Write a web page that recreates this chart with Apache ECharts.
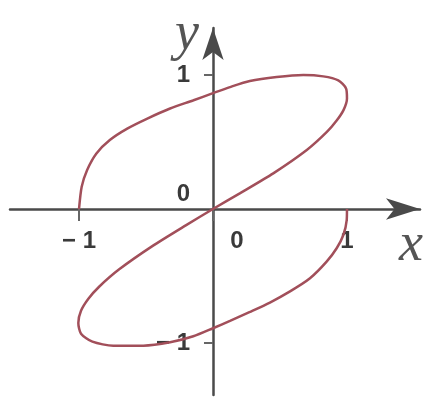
<!DOCTYPE html>
<html>
<head>
<meta charset="utf-8">
<script src="https://cdn.jsdelivr.net/npm/echarts@6/dist/echarts.min.js"></script>
<style>html,body{margin:0;padding:0;background:#fff;}#c{width:448px;height:408px;}</style>
</head>
<body>
<div id="c"></div>
<script>
// curve points [x, y], in drawing order
const curveX = [-1.0,-0.98,-0.94,-0.87,-0.77,-0.64,-0.49,-0.32,-0.15,0.0,0.127,0.275,0.475,0.674,0.823,0.935,0.993,1.0,0.975,0.923,0.85,0.70,0.45,0.2,0.0,-0.2,-0.45,-0.70,-0.85,-0.93,-0.985,-1.005,-0.985,-0.90,-0.744,-0.52,-0.32,-0.147,0.0,0.127,0.276,0.425,0.575,0.724,0.848,0.923,0.973,0.998,1.0];
const curveY = [0.0,0.166,0.29,0.415,0.515,0.60,0.675,0.75,0.81,0.865,0.91,0.955,0.985,1.0,0.99,0.96,0.90,0.825,0.74,0.66,0.575,0.44,0.266,0.117,0.0,-0.12,-0.275,-0.45,-0.58,-0.67,-0.76,-0.85,-0.93,-0.99,-1.02,-1.02,-0.995,-0.95,-0.89,-0.835,-0.768,-0.698,-0.615,-0.517,-0.393,-0.293,-0.194,-0.082,0.0];
const xTicks = [-1, 0, 1];
const yTicks = [-1, 0, 1];

const curve = curveX.map((x, i) => [x, curveY[i]]);
const fmt = v => (v < 0 ? '\u2212 ' + Math.abs(v) : String(v));

const chart = echarts.init(document.getElementById('c'), null, {renderer: 'canvas'});
const labelStyle = {fontFamily: 'Liberation Sans, Arial, sans-serif', fontSize: 24, fontWeight: 'bold', color: '#3a3a3a'};
chart.setOption({
  animation: false,
  grid: {left: 10, right: 28, top: 28, bottom: 13, containLabel: false, outerBoundsMode: 'none'},
  xAxis: {
    type: 'value', min: -1.515, max: 1.545,
    splitLine: {show: false},
    axisLine: {onZero: true, lineStyle: {color: '#4a4a4a', width: 2.5}, symbol: ['none', 'arrow'], symbolSize: [16, 34]},
    axisTick: {show: true, customValues: xTicks, length: 12, lineStyle: {color: '#666', width: 2}},
    axisLabel: {
      customValues: xTicks, margin: -166,
      formatter: v => v === 0 ? '{z|0}' : fmt(v),
      ...labelStyle,
      rich: {z: {...labelStyle, padding: [0, 0, 0, 48]}}
    },
    name: 'x', nameLocation: 'end', nameGap: -9,
    nameTextStyle: {fontFamily: 'Liberation Serif, Times New Roman, serif', fontStyle: 'italic', fontSize: 54, color: '#555', align: 'center', verticalAlign: 'top', padding: [10, 0, 0, 0]}
  },
  yAxis: {
    type: 'value', min: -1.388, max: 1.351,
    splitLine: {show: false},
    axisLine: {onZero: true, lineStyle: {color: '#4a4a4a', width: 2.5}, symbol: ['none', 'arrow'], symbolSize: [16, 32]},
    axisTick: {show: true, customValues: yTicks.filter(v => v !== 0), length: 9, lineStyle: {color: '#666', width: 2}},
    axisLabel: {
      customValues: yTicks, margin: -180,
      formatter: v => v === 0 ? '{z|0}' : fmt(v),
      ...labelStyle,
      rich: {z: {...labelStyle, padding: [0, 0, 30, 0]}}
    },
    name: 'y', nameLocation: 'end', nameGap: -7,
    nameTextStyle: {fontFamily: 'Liberation Serif, Times New Roman, serif', fontStyle: 'italic', fontSize: 54, color: '#555', align: 'right', verticalAlign: 'middle', padding: [0, 14, 0, 0]}
  },
  series: [{
    type: 'line', data: curve, smooth: 0.25, showSymbol: false, silent: true,
    lineStyle: {color: '#a24f5a', width: 2.5}
  }]
});
</script>
</body>
</html>
